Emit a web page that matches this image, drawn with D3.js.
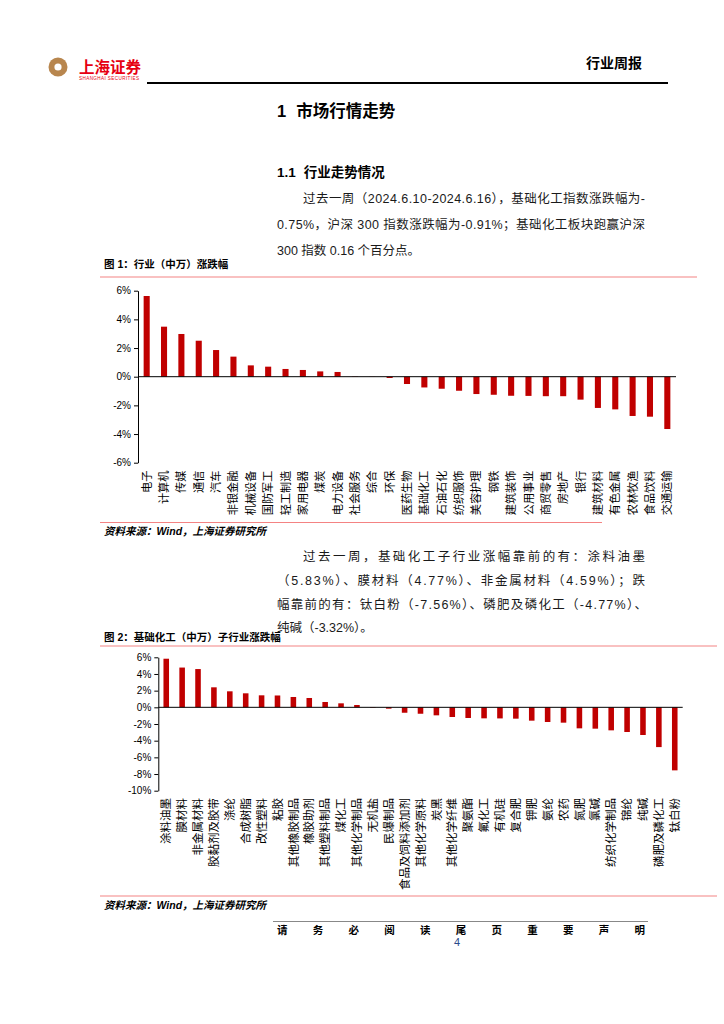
<!DOCTYPE html>
<html><head><meta charset="utf-8">
<script src="https://cdn.jsdelivr.net/npm/d3@7/dist/d3.min.js"></script>
<style>
html,body{margin:0;padding:0;background:#fff;}
svg text{font-family:"Liberation Sans","Noto Sans CJK SC",sans-serif;}
</style></head>
<body>
<svg id="page" width="724" height="1024"></svg>
<script>
const cats1 = ["电子","计算机","传媒","通信","汽车","非银金融","机械设备","国防军工","轻工制造","家用电器","煤炭","电力设备","社会服务","综合","环保","医药生物","基础化工","石油石化","纺织服饰","美容护理","钢铁","建筑装饰","公用事业","商贸零售","房地产","银行","建筑材料","有色金属","农林牧渔","食品饮料","交通运输"];
const vals1 = [5.63,3.49,2.98,2.51,1.86,1.40,0.79,0.70,0.54,0.47,0.37,0.33,0.02,0.01,-0.09,-0.51,-0.75,-0.84,-0.98,-1.21,-1.26,-1.33,-1.34,-1.36,-1.36,-1.60,-2.18,-2.28,-2.74,-2.79,-3.65];
const ticks1 = [-6,-4,-2,0,2,4,6];

const cats2 = ["涂料油墨","膜材料","非金属材料","胶黏剂及胶带","涤纶","合成树脂","改性塑料","粘胶","其他橡胶制品","橡胶助剂","其他塑料制品","煤化工","其他化学制品","无机盐","民爆制品","食品及饲料添加剂","其他化学原料","炭黑","其他化学纤维","聚氨酯","氟化工","有机硅","复合肥","钾肥","氨纶","农药","氮肥","氯碱","纺织化学制品","锦纶","纯碱","磷肥及磷化工","钛白粉"];
const vals2 = [5.83,4.77,4.59,2.40,1.92,1.68,1.44,1.42,1.24,1.12,0.64,0.48,0.28,-0.05,-0.16,-0.65,-0.77,-0.96,-1.16,-1.28,-1.32,-1.33,-1.36,-1.60,-1.76,-1.84,-2.52,-2.56,-2.76,-2.96,-3.32,-4.77,-7.56];
const ticks2 = [-10,-8,-6,-4,-2,0,2,4,6];

const svg = d3.select("#page");
const CJK = "'Noto Sans CJK SC',sans-serif";

// ---------- header ----------
const logo = svg.append("g");
logo.append("circle").attr("cx",58).attr("cy",67).attr("r",9.5).attr("fill","#b8864e");
logo.append("circle").attr("cx",58).attr("cy",67).attr("r",3.6).attr("fill","#fff");
logo.append("text").attr("x",79).attr("y",73).attr("font-size",15.5).attr("font-weight","bold")
  .attr("fill","#e60012").style("font-family",CJK).text("上海证券");
logo.append("text").attr("x",79).attr("y",79.5).attr("font-size",4.6).attr("fill","#e60012")
  .attr("textLength",60).text("SHANGHAI SECURITIES");
svg.append("text").attr("x",586).attr("y",68).attr("font-size",14).attr("font-weight","bold")
  .style("font-family",CJK).text("行业周报");
svg.append("line").attr("x1",147).attr("x2",668).attr("y1",83).attr("y2",83)
  .attr("stroke","#000").attr("stroke-width",2);

// ---------- headings & paragraphs ----------
const h1 = svg.append("text").attr("x",277).attr("y",117).attr("font-size",16.5).attr("font-weight","bold");
h1.append("tspan").text("1");
h1.append("tspan").attr("dx",10).text("市场行情走势");
const h2 = svg.append("text").attr("x",277).attr("y",177).attr("font-size",13.5).attr("font-weight","bold");
h2.append("tspan").text("1.1");
h2.append("tspan").attr("dx",8).text("行业走势情况");

function para(lines){
  lines.forEach(l=>{
    const t = svg.append("text").attr("x",l.x).attr("y",l.y).attr("font-size",12.5).attr("fill","#1a1a1a").text(l.t);
    if(l.w) t.attr("textLength",l.w).attr("lengthAdjust","spacing");
  });
}
para([
  {x:303,y:203,t:"过去一周（2024.6.10-2024.6.16），基础化工指数涨跌幅为-",w:342},
  {x:277,y:229,t:"0.75%，沪深 300 指数涨跌幅为-0.91%；基础化工板块跑赢沪深",w:368},
  {x:277,y:255,t:"300 指数 0.16 个百分点。"}
]);
para([
  {x:303,y:561,t:"过去一周，基础化工子行业涨幅靠前的有：涂料油墨",w:342},
  {x:277,y:585,t:"（5.83%）、膜材料（4.77%）、非金属材料（4.59%）；跌",w:368},
  {x:277,y:609,t:"幅靠前的有：钛白粉（-7.56%）、磷肥及磷化工（-4.77%）、",w:370},
  {x:277,y:632,t:"纯碱（-3.32%）。"}
]);

// ---------- figure captions ----------
svg.append("text").attr("x",104).attr("y",268).attr("font-size",10.5).attr("font-weight","bold").text("图 1：行业（中万）涨跌幅");
svg.append("text").attr("x",104).attr("y",641).attr("font-size",10.5).attr("font-weight","bold").text("图 2：基础化工（中万）子行业涨跌幅");
const red = "#f48383";
svg.append("line").attr("x1",100).attr("x2",697).attr("y1",277).attr("y2",277).attr("stroke",red).attr("stroke-width",1.2);
svg.append("line").attr("x1",100).attr("x2",602).attr("y1",522.5).attr("y2",522.5).attr("stroke",red).attr("stroke-width",1.2);
svg.append("line").attr("x1",100).attr("x2",717).attr("y1",646).attr("y2",646).attr("stroke",red).attr("stroke-width",1.2);
svg.append("line").attr("x1",100).attr("x2",717).attr("y1",896).attr("y2",896).attr("stroke",red).attr("stroke-width",1.2);
[535, 909].forEach(y=>{
  svg.append("text").attr("x",104).attr("y",y).attr("font-size",10.5).attr("font-weight","bold")
    .attr("font-style","italic").text("资料来源：Wind，上海证券研究所");
});

// ---------- bar chart helper ----------
function barChart(cats, vals, ticks, x0, x1, yTop, yBot, labelTop, fs){
  const g = svg.append("g");
  const x = d3.scaleBand().domain(cats).range([x0,x1]).paddingInner(0.65).paddingOuter(0.325);
  const y = d3.scaleLinear().domain([ticks[0], ticks[ticks.length-1]]).range([yBot,yTop]);
  g.selectAll("rect.bar").data(cats).join("rect").attr("class","bar")
    .attr("x",d=>x(d)).attr("width",x.bandwidth())
    .attr("y",(d,i)=>y(Math.max(0,vals[i])))
    .attr("height",(d,i)=>Math.abs(y(vals[i])-y(0)))
    .attr("fill","#c00000");
  const ax = g.append("g").attr("transform",`translate(${x0},0)`)
    .call(d3.axisLeft(y).tickValues(ticks).tickSize(4).tickSizeOuter(0).tickFormat(d=>d+"%"));
  ax.select(".domain").attr("stroke","#000");
  ax.selectAll(".tick line").attr("stroke","#000");
  ax.selectAll("text").attr("font-size",10).attr("fill","#000").attr("font-family","'Liberation Sans',sans-serif");
  g.append("line").attr("x1",x0).attr("x2",x1).attr("y1",y(0)).attr("y2",y(0)).attr("stroke","#000").attr("stroke-width",1);
  g.selectAll("text.cat").data(cats).join("text").attr("class","cat")
    .attr("transform",d=>`translate(${x(d)+x.bandwidth()/2},${labelTop}) rotate(-90)`)
    .attr("text-anchor","end").attr("dy","0.36em")
    .attr("font-size",fs).style("font-family",CJK).attr("fill","#000").text(d=>d);
}
barChart(cats1, vals1, ticks1, 138, 676, 290.7, 462.7, 470.5, 11.2);
barChart(cats2, vals2, ticks2, 158.3, 682.7, 657.3, 790.7, 798, 11.5);

// ---------- footer ----------
svg.append("line").attr("x1",273).attr("x2",648).attr("y1",921.5).attr("y2",921.5).attr("stroke","#888").attr("stroke-width",1);
svg.append("text").attr("x",277).attr("y",934).attr("font-size",10.5).attr("font-weight","bold")
  .attr("textLength",368).attr("lengthAdjust","spacing").style("font-family",CJK).text("请务必阅读尾页重要声明");
svg.append("text").attr("x",457).attr("y",946).attr("text-anchor","middle").attr("font-size",11).attr("fill","#2a4a8a").text("4");
</script>
</body></html>
